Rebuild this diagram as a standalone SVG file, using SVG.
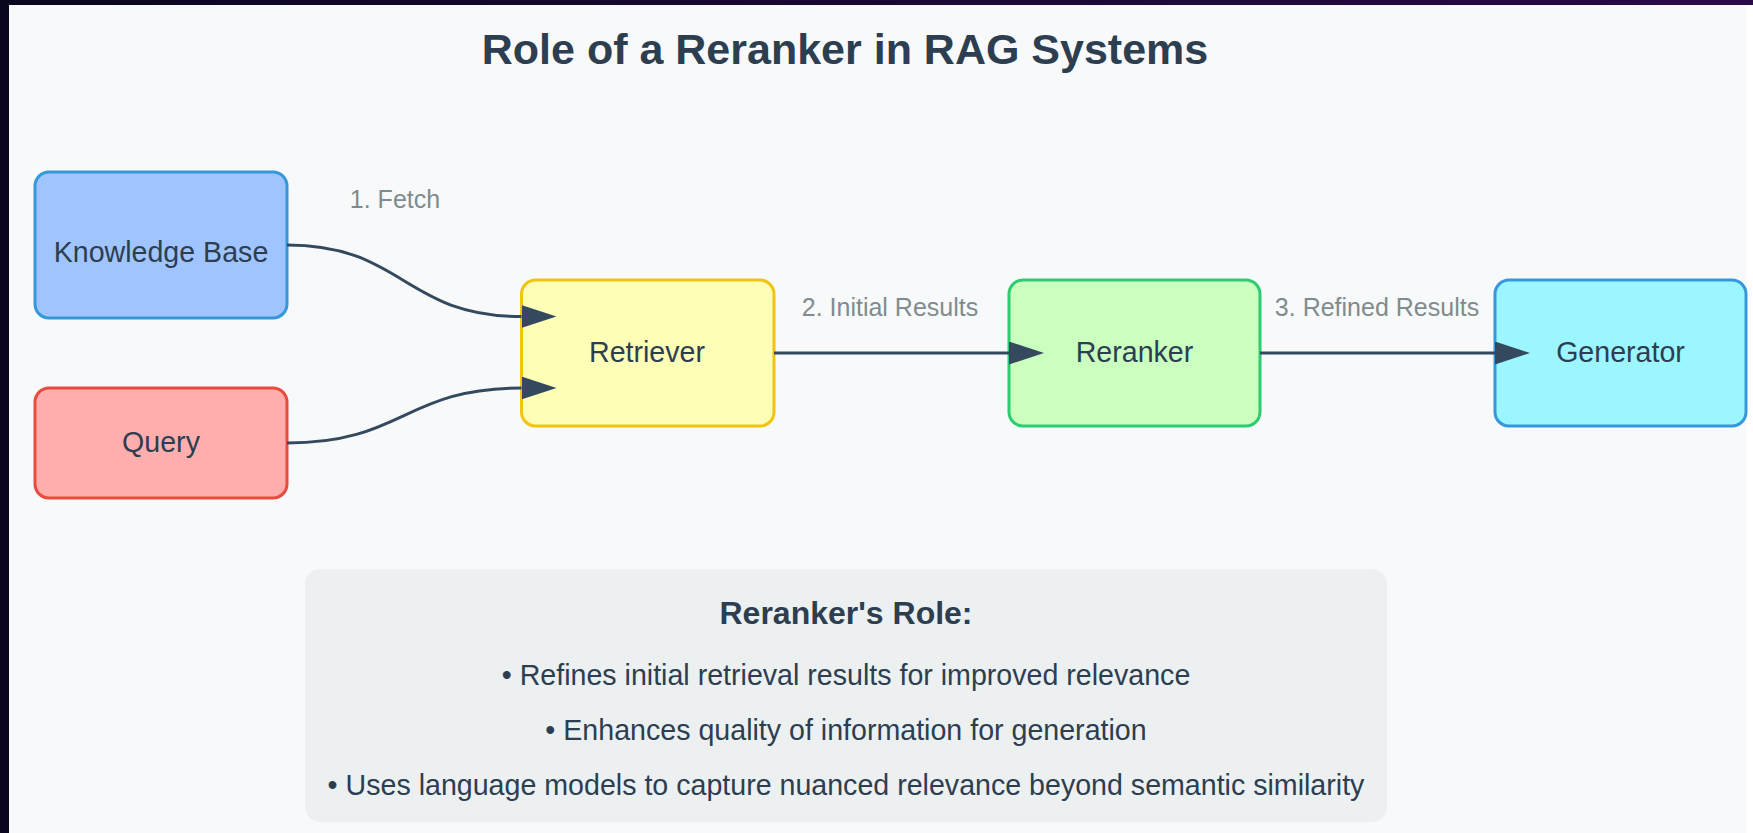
<svg xmlns="http://www.w3.org/2000/svg" width="1753" height="833" viewBox="0 0 1753 833">
  <defs>
    <linearGradient id="topBand" x1="0" y1="0" x2="1" y2="0">
      <stop offset="0" stop-color="#0a0620"/>
      <stop offset="1" stop-color="#2a0a48"/>
    </linearGradient>
    <marker id="arrow" viewBox="0 0 35 23" refX="0" refY="11.5" markerWidth="35" markerHeight="23" markerUnits="userSpaceOnUse" orient="auto">
      <path d="M0,0 L35,11.5 L0,23 Z" fill="#34495e"/>
    </marker>
    <style>
      .node rect { stroke-width: 3; }
      .label { font-family: "Liberation Sans", Arial, sans-serif; font-size: 28.6px; fill: #2c3e50; text-anchor: middle; }
      .edge { fill: none; stroke: #34495e; stroke-width: 3; marker-end: url(#arrow); }
      .edge-label { font-family: "Liberation Sans", Arial, sans-serif; font-size: 25px; fill: #7f8c8d; text-anchor: middle; }
      .title { font-family: "Liberation Sans", Arial, sans-serif; font-weight: bold; font-size: 43px; fill: #2c3e50; text-anchor: middle; }
      .info-title { font-family: "Liberation Sans", Arial, sans-serif; font-weight: bold; font-size: 32px; fill: #2c3e50; text-anchor: middle; }
      .info-item { font-family: "Liberation Sans", Arial, sans-serif; font-size: 28.6px; fill: #2c3e50; text-anchor: middle; }
    </style>
  </defs>

  <!-- page background and window frame -->
  <rect x="0" y="0" width="1753" height="833" fill="#f8f9fa"/>
  <rect x="1747" y="0" width="6" height="833" fill="#ffffff"/>
  <rect x="0" y="0" width="1753" height="5" fill="url(#topBand)"/>
  <rect x="0" y="0" width="9" height="833" fill="#0a0620"/>

  <text class="title" x="845" y="64">Role of a Reranker in RAG Systems</text>

  <!-- nodes -->
  <g id="knowledge-base" class="node">
    <rect x="35" y="172" width="252" height="146" rx="14" fill="#a0c4ff" stroke="#3498db"/>
    <text class="label" x="161" y="262">Knowledge Base</text>
  </g>
  <g id="query" class="node">
    <rect x="35" y="388" width="252" height="110" rx="14" fill="#ffadad" stroke="#e74c3c"/>
    <text class="label" x="161" y="452">Query</text>
  </g>
  <g id="retriever" class="node">
    <rect x="521.5" y="280" width="252.5" height="146" rx="14" fill="#fdffb6" stroke="#f1c40f"/>
    <text class="label" x="647" y="362">Retriever</text>
  </g>
  <g id="reranker" class="node">
    <rect x="1009" y="280" width="251" height="146" rx="14" fill="#caffbf" stroke="#2ecc71"/>
    <text class="label" x="1134.5" y="362">Reranker</text>
  </g>
  <g id="generator" class="node">
    <rect x="1495" y="280" width="251" height="146" rx="14" fill="#9bf6ff" stroke="#3498db"/>
    <text class="label" x="1620.5" y="362">Generator</text>
  </g>

  <!-- connectors (drawn over the nodes so the arrowheads stay visible) -->
  <g id="connectors">
    <path class="edge" d="M287,245 C404,245 404,316.5 521.5,316.5"/>
    <path class="edge" d="M287,443 C404,443 404,388 521.5,388"/>
    <path class="edge" d="M774,353 L1009,353"/>
    <path class="edge" d="M1260,353 L1495,353"/>
    <text class="edge-label" x="395" y="208">1. Fetch</text>
    <text class="edge-label" x="890" y="316">2. Initial Results</text>
    <text class="edge-label" x="1377" y="316">3. Refined Results</text>
  </g>

  <!-- summary panel -->
  <g id="reranker-role">
    <rect x="305" y="569" width="1082" height="253" rx="15" fill="#ecf0f1"/>
    <text class="info-title" x="846" y="624">Reranker's Role:</text>
    <text class="info-item" x="846" y="685">• Refines initial retrieval results for improved relevance</text>
    <text class="info-item" x="846" y="740">• Enhances quality of information for generation</text>
    <text class="info-item" x="846" y="795">• Uses language models to capture nuanced relevance beyond semantic similarity</text>
  </g>
</svg>
